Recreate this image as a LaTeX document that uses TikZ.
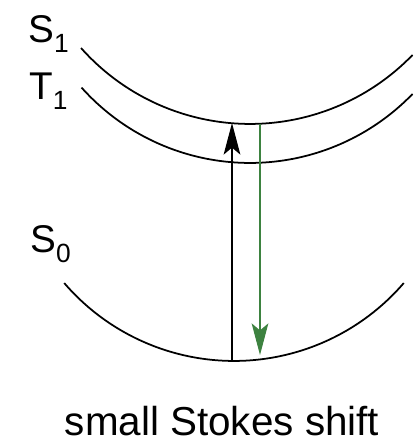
\documentclass[tikz,border=0pt]{standalone}
\usepackage{fontspec}
\setmainfont{Liberation Sans}
\usepackage{xcolor}
\definecolor{emgreen}{RGB}{61,130,64}
\newcommand{\lvl}[2]{#1\raisebox{-5.5pt}{\fontsize{15}{15}\selectfont #2}}
\usetikzlibrary{arrows.meta}

\begin{document}
\begin{tikzpicture}[
    x=0.02cm, y=0.02cm,
    every node/.style={inner sep=0pt, font=\fontsize{22}{26}\selectfont},
    curve/.style={line width=1pt},
    absorb/.style={line width=0.8pt, -{Stealth[length=18pt, width=9.5pt, inset=4pt]}},
    emit/.style={emgreen, line width=0.6pt, -{Stealth[length=18pt, width=9.5pt, inset=4pt]}},
  ]
    \def\R{4.52cm}                          % 激发态曲线半径
    \def\Rg{4.48cm}                         % 基态曲线半径
    \useasboundingbox (0,0) rectangle (413,443);

    % 势能曲线
    \draw[curve] ([shift={(221.6:\R)}]250,545) arc[start angle=221.6, end angle=316, radius=\R];
    \draw[curve] ([shift={(221.8:\R)}]250,506) arc[start angle=221.8, end angle=316, radius=\R];
    \draw[curve] ([shift={(220.7:\Rg)}]234,306) arc[start angle=220.7, end angle=319.3, radius=\Rg];

    % 曲线上的端点
    \coordinate (g0) at (232,82);
    \coordinate (e1) at (232,320);
    \coordinate (e2) at (260,319);
    \coordinate (g1) at (260,88);

    % 吸收与发射
    \draw[absorb] (g0) -- (e1);
    \draw[emit] (e2) -- (g1);

    % 能级标签
    \node[anchor=base west] (s1) at (28,400) {\lvl{S}{1}};
    \node[anchor=base west] (t1) at (29,343) {\lvl{T}{1}};
    \node[anchor=base west] (s0) at (30,190) {\lvl{S}{0}};

    % 图题
    \node[anchor=base, font=\fontsize{23}{28}\selectfont] (cap) at (222,8) {small Stokes shift};
\end{tikzpicture}
\end{document}
